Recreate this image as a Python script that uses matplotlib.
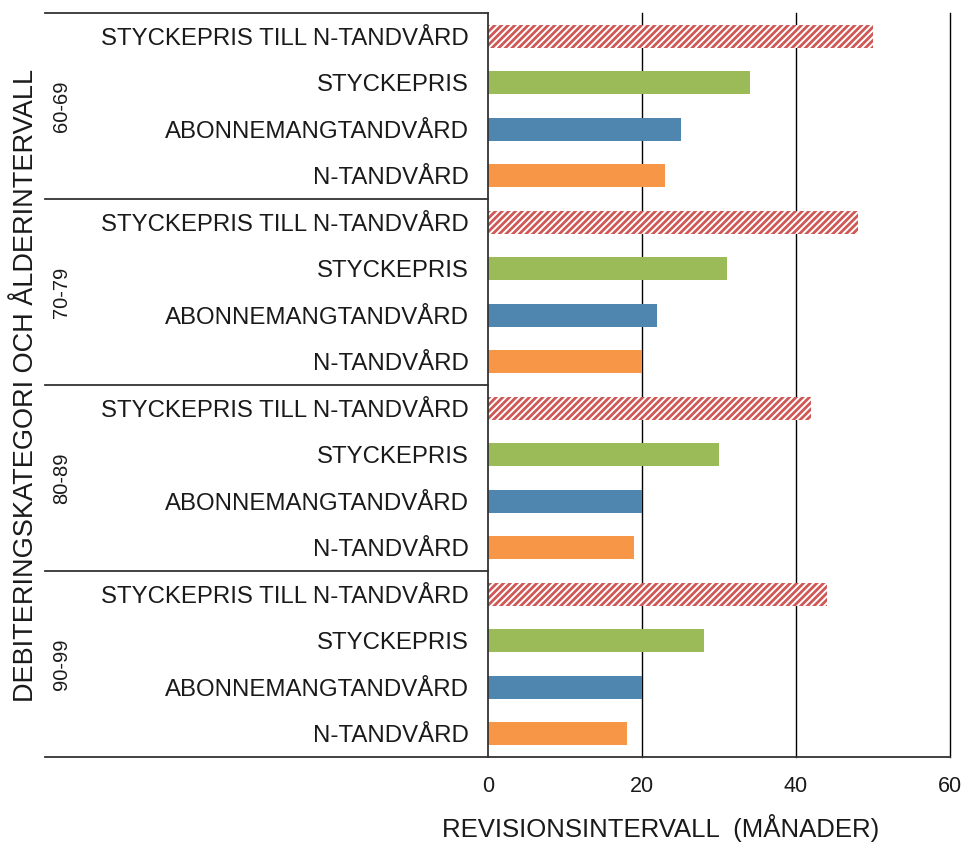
#!/usr/bin/env python3
"""Revisionsintervall per debiteringskategori och åldersintervall."""

import matplotlib
matplotlib.use("Agg")
import matplotlib.pyplot as plt
from matplotlib.transforms import blended_transform_factory

# data
groups = ['60-69', '70-79', '80-89', '90-99']
categories = ['STYCKEPRIS TILL N-TANDVÅRD', 'STYCKEPRIS', 'ABONNEMANGTANDVÅRD', 'N-TANDVÅRD']
styckepris_till_n = [50, 48, 42, 44]
styckepris = [34, 31, 30, 28]
abonnemang = [25, 22, 20, 20]
n_tandvard = [23, 20, 19, 18]
x_ticks = [0, 20, 40, 60]

series = [styckepris_till_n, styckepris, abonnemang, n_tandvard]
colors = ['#CF5856', '#9BBB59', '#4F86B0', '#F79646']

plt.rcParams['font.family'] = ['Liberation Sans', 'DejaVu Sans']
plt.rcParams['hatch.linewidth'] = 2.0
text_color = '#1a1a1a'


def main():
    fig = plt.figure(figsize=(9.67, 8.42), dpi=100)
    ax = fig.add_axes([488 / 967, 1 - 757 / 842, (950 - 488) / 967, (757 - 13) / 842])

    labels = []
    for g, grp in enumerate(groups):
        for c, cat in enumerate(categories):
            pos = g * len(categories) + c
            val = series[c][g]
            if c == 0:
                ax.barh(pos, val, height=0.5, color='white', edgecolor=colors[c],
                        hatch='/////', linewidth=0)
            else:
                ax.barh(pos, val, height=0.5, color=colors[c], linewidth=0)
            labels.append(cat)

    n_rows = len(groups) * len(categories)
    ax.set_ylim(n_rows - 0.5, -0.5)
    ax.set_xlim(0, 60)
    ax.set_yticks(range(n_rows))
    ax.set_yticklabels(labels, fontsize=17.3, color=text_color)
    ax.set_xticks(x_ticks)
    ax.set_xticklabels([str(t) for t in x_ticks], fontsize=15.5, color=text_color)
    ax.tick_params(axis='y', length=0, pad=14)
    ax.tick_params(axis='x', length=0, pad=14)

    # vertical gridlines, the one at 60 doubles as right border
    for t in x_ticks[1:]:
        ax.axvline(t, color='black', linewidth=1, zorder=0.5, clip_on=False)
    for side in ['top', 'right']:
        ax.spines[side].set_visible(False)
    for side in ['left', 'bottom']:
        ax.spines[side].set_color('#333333')
        ax.spines[side].set_linewidth(1.3)

    # group separators reaching out into the label area
    trans = blended_transform_factory(ax.transAxes, ax.transData)
    left_end = (45 - 488) / (950 - 488)
    for k in range(len(groups) + 1):
        y = k * len(categories) - 0.5
        ax.plot([left_end, 0], [y, y], transform=trans, color='#333333',
                linewidth=1.3, clip_on=False)

    # group labels
    gtrans = blended_transform_factory(fig.transFigure, ax.transData)
    for g, grp in enumerate(groups):
        fig.text(62 / 967, g * len(categories) + 1.5, grp, transform=gtrans,
                 rotation=90, ha='center', va='center', fontsize=14.5, color=text_color)

    fig.text(26 / 967, 1 - 385 / 842, 'DEBITERINGSKATEGORI OCH ÅLDERINTERVALL',
             rotation=90, ha='center', va='center', fontsize=19.5, color=text_color)
    fig.text(661 / 967, 1 - 828 / 842, 'REVISIONSINTERVALL  (MÅNADER)',
             ha='center', va='center', fontsize=18.5, color=text_color)

    fig.savefig('out.png', dpi=100)
    plt.close(fig)


if __name__ == "__main__":
    main()
